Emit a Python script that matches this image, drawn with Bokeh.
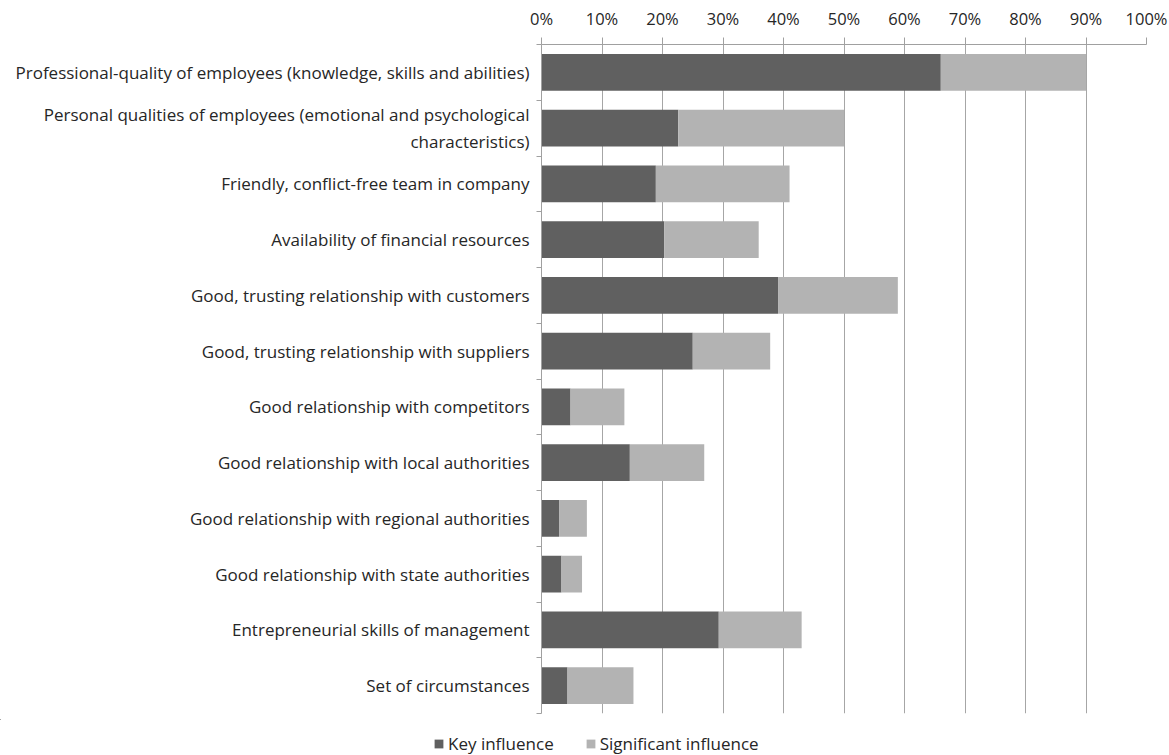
from bokeh.plotting import figure
from bokeh.layouts import column
from bokeh.models import (Range1d, FixedTicker, NumeralTickFormatter, Legend, LegendItem,
                          ColumnDataSource)
from bokeh.embed import file_html
from bokeh.resources import INLINE

categories = [
    "Professional-quality of employees (knowledge, skills and abilities)",
    "Personal qualities of employees (emotional and psychological\ncharacteristics)",
    "Friendly, conflict-free team in company",
    "Availability of financial resources",
    "Good, trusting relationship with customers",
    "Good, trusting relationship with suppliers",
    "Good relationship with competitors",
    "Good relationship with local authorities",
    "Good relationship with regional authorities",
    "Good relationship with state authorities",
    "Entrepreneurial skills of management",
    "Set of circumstances",
]
key_influence = [66.0, 22.6, 18.9, 20.3, 39.1, 25.0, 4.8, 14.6, 2.9, 3.3, 29.3, 4.3]
significant_influence = [24.0, 27.4, 22.1, 15.6, 19.8, 12.8, 8.9, 12.3, 4.6, 3.4, 13.7, 10.9]
series_names = ["Key influence", "Significant influence"]
series_colors = ["#606060", "#b3b3b3"]
x_ticks = [0, 10, 20, 30, 40, 50, 60, 70, 80, 90, 100]

n = len(categories)
ypos = [n - i - 0.5 for i in range(n)]

src = ColumnDataSource(dict(
    y=ypos,
    key=[v / 100 for v in key_influence],
    sig=[v / 100 for v in significant_influence],
))

FONT = "Open Sans"
TEXT = "#262626"

p = figure(width=1169, height=719, output_backend="svg", toolbar_location=None,
           x_range=Range1d(0, 1), y_range=Range1d(0, n),
           x_axis_location="above", y_axis_location="left",
           min_border_left=541, min_border_right=23, min_border_top=44, min_border_bottom=6)
p.outline_line_color = None
p.background_fill_color = "white"
p.frame_align = False

rs = p.hbar_stack(["key", "sig"], y="y", height=0.66, source=src,
                  color=series_colors, line_color=None)

# x axis
xa = p.xaxis[0]
xa.ticker = FixedTicker(ticks=[t / 100 for t in x_ticks])
xa.formatter = NumeralTickFormatter(format="0%")
xa.major_label_text_font = FONT
xa.major_label_text_font_size = "16.5px"
xa.major_label_text_color = TEXT
xa.axis_line_color = "#a0a0a0"
xa.major_tick_line_color = "#a0a0a0"
xa.major_tick_out = 7
xa.major_tick_in = 0
xa.minor_tick_line_color = None
xa.major_label_standoff = 8

# y axis
ya = p.yaxis[0]
ya.ticker = FixedTicker(ticks=ypos, minor_ticks=list(range(0, n + 1)))
ya.major_label_overrides = {y: c for y, c in zip(ypos, categories)}
ya.major_label_text_font = FONT
ya.major_label_text_font_size = "17px"
ya.major_label_text_color = TEXT
ya.axis_line_color = "#a0a0a0"
ya.major_tick_line_color = None
ya.minor_tick_line_color = "#a0a0a0"
ya.minor_tick_out = 5
ya.minor_tick_in = 0
ya.major_label_standoff = 6

p.xgrid.grid_line_color = "#a6a6a6"
p.xgrid.ticker = FixedTicker(ticks=[t / 100 for t in x_ticks])
p.ygrid.grid_line_color = None

# legend strip below the chart (its bars lie outside its visible ranges; only the legend shows)
lf = figure(width=1169, height=36, output_backend="svg", toolbar_location=None,
            x_range=Range1d(10, 11), y_range=Range1d(-20, -19),
            min_border=0, min_border_left=0, min_border_right=0,
            min_border_top=0, min_border_bottom=0)
lf.outline_line_color = None
lf.axis.visible = False
lf.grid.visible = False
lf.frame_align = False
lrs = lf.hbar_stack(["key", "sig"], y="y", height=0.01, source=src,
                    color=series_colors, line_color=None)
legend = Legend(items=[LegendItem(label=nm, renderers=[r]) for nm, r in zip(series_names, lrs)],
                orientation="horizontal", location=(433, 0),
                glyph_width=11, glyph_height=11, label_standoff=4, spacing=31,
                padding=0, margin=0, border_line_color=None, background_fill_alpha=0,
                label_text_font=FONT, label_text_font_size="17px", label_text_color=TEXT)
lf.add_layout(legend, "center")

open("out.html", "w").write(file_html(column(p, lf, spacing=0), INLINE))
